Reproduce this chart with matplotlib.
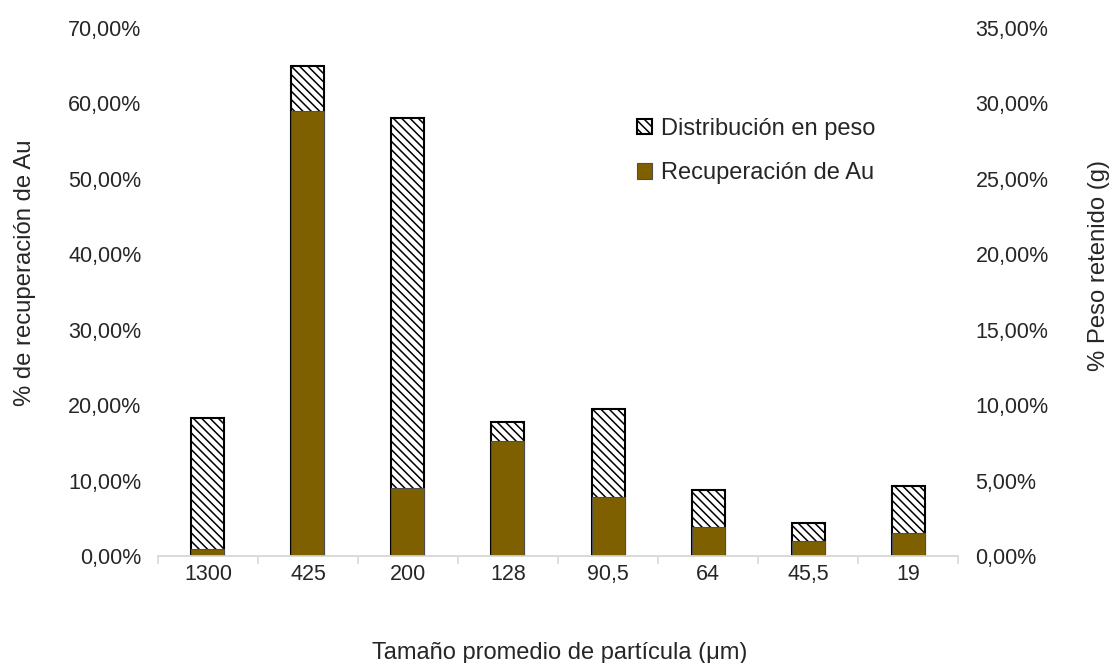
import numpy as np
import matplotlib.pyplot as plt
from matplotlib.ticker import FuncFormatter, FixedLocator

plt.rcParams['font.family'] = ['Liberation Sans', 'DejaVu Sans']
plt.rcParams['hatch.linewidth'] = 1.1

# Tamaños de partícula (um)
tamanos = ['1300', '425', '200', '128', '90,5', '64', '45,5', '19']
# % peso retenido (eje derecho)
peso = [9.15, 32.5, 29.0, 8.85, 9.75, 4.35, 2.2, 4.65]
# % recuperación de Au (eje izquierdo)
recuperacion = [0.9, 59.0, 9.0, 15.2, 7.8, 3.9, 2.0, 3.1]

BROWN = '#7F6000'
GRID = '#d9d9d9'
TXT = '#262626'

fig = plt.figure(figsize=(11.14, 6.63), dpi=100)
ax = fig.add_axes([0.1418, 0.1614, 0.7182, 0.7964])
ax2 = ax.twinx()

x = np.arange(len(tamanos))
w = 0.33

ax2.bar(x, peso, w, color='white', edgecolor='black', hatch='\\\\\\\\',
        linewidth=1.5, label='Distribución en peso')
ax.bar(x, recuperacion, w, color=BROWN, edgecolor='#4d4d4d',
       linewidth=0.8, label='Recuperación de Au')

# eje de recuperación por delante del de peso
ax.set_zorder(ax2.get_zorder() + 1)
ax.patch.set_visible(False)

ax.set_ylim(0, 70)
ax2.set_ylim(0, 35)
ax.set_xlim(-0.5, len(tamanos) - 0.5)
ax.set_yticks(np.arange(0, 71, 10))
ax2.set_yticks(np.arange(0, 36, 5))
pct = FuncFormatter(lambda v, _: f"{v:.2f}%".replace('.', ','))
ax.yaxis.set_major_formatter(pct)
ax2.yaxis.set_major_formatter(pct)

ax.set_xticks(x)
ax.set_xticklabels(tamanos)
ax.xaxis.set_minor_locator(FixedLocator(np.arange(-0.5, len(tamanos), 1)))
ax.tick_params(axis='x', which='major', length=0, pad=6, labelsize=15.5,
               labelcolor=TXT)
ax.tick_params(axis='x', which='minor', length=6, color=GRID, width=1.2)
ax.tick_params(axis='y', length=0, pad=12, labelsize=15.5, labelcolor=TXT)
ax2.tick_params(axis='y', length=0, pad=12.5, labelsize=15.5, labelcolor=TXT)

for a in (ax, ax2):
    for s in ('top', 'left', 'right'):
        a.spines[s].set_visible(False)
    a.spines['bottom'].set_color(GRID)
    a.spines['bottom'].set_linewidth(1.2)

ax.set_ylabel('% de recuperación de Au', fontsize=17.2, color=TXT)
ax2.set_ylabel('% Peso retenido (g)', fontsize=17.2, color=TXT)
ax.set_xlabel('Tamaño promedio de partícula (μm)', fontsize=17, color=TXT)
ax.yaxis.set_label_coords(-0.1525, 0.536)
ax2.yaxis.set_label_coords(1.1625, 0.551)
ax.xaxis.set_label_coords(0.502, -0.1635)

h1, l1 = ax2.get_legend_handles_labels()
h2, l2 = ax.get_legend_handles_labels()
leg = ax.legend(h1 + h2, l1 + l2, loc='upper left', bbox_to_anchor=(0.587, 0.848),
                borderaxespad=0, frameon=False, fontsize=17, handlelength=0.65,
                handleheight=0.65, handletextpad=0.35, labelspacing=0.96)
for t in leg.get_texts():
    t.set_color(TXT)

fig.savefig('out.png', dpi=100)
